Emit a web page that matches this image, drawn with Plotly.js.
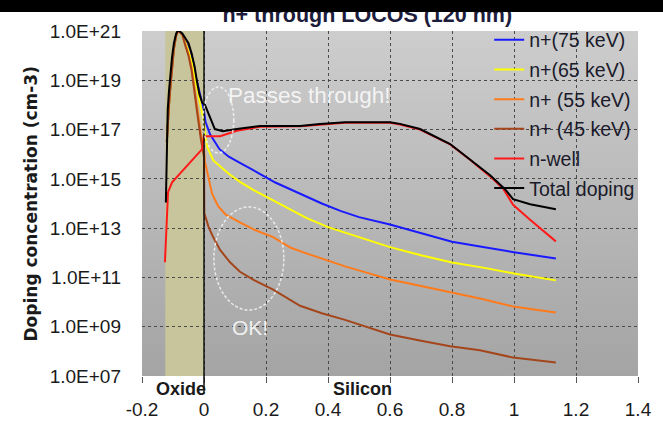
<!DOCTYPE html>
<html>
<head>
<meta charset="utf-8">
<script src="https://cdn.plot.ly/plotly-3.0.1.min.js"></script>
<style>
  html, body { margin: 0; padding: 0; background: #ffffff; }
  #wrap { position: relative; width: 663px; height: 423px; }
  #chart { position: absolute; left: 0; top: 0; width: 663px; height: 423px; }
  #band { position: absolute; left: 0; top: 0; width: 663px; height: 12px; background: #000; z-index: 10; }
</style>
</head>
<body>
<div id="wrap"><div id="chart"></div><div id="band"></div></div>
<script>
// ---- data (depth in um, concentration in cm-3) ----
const seriesNames = ["n+(75 keV)", "n+(65 keV)", "n+ (55 keV)", "n+ (45 keV)", "n-well", "Total doping"];

const n75_x = [-0.12, -0.117, -0.113, -0.108, -0.103, -0.097, -0.09, -0.085, -0.08, -0.07, -0.06, -0.05, -0.04, -0.03, -0.02, -0.01, 0,
  0.005, 0.02, 0.05, 0.08, 0.116, 0.15, 0.18, 0.23, 0.28, 0.31, 0.38, 0.44, 0.5, 0.6, 0.7, 0.8, 0.9, 1.0, 1.135];
const n75_y = [3.2e16, 2.0e17, 1.0e18, 6.3e18, 3.5e19, 2.0e20, 6.3e20, 9.5e20, 9.5e20, 7.1e20, 4.0e20, 2.0e20, 7.9e19, 2.2e19, 5.6e18, 1.6e18, 5.6e17,
  2.0e17, 6.3e16, 1.6e16, 7.9e15, 4.5e15, 2.5e15, 1.6e15, 7.1e14, 3.7e14, 2.5e14, 1.0e14, 5.0e13, 2.8e13, 1.4e13, 6.3e12, 2.8e12, 1.7e12, 1.05e12, 5.9e11];

const n65_x = [-0.12, -0.117, -0.113, -0.108, -0.103, -0.097, -0.09, -0.085, -0.08, -0.07, -0.06, -0.05, -0.04, -0.03, -0.02, -0.01, 0,
  0.003, 0.01, 0.03, 0.052, 0.08, 0.116, 0.16, 0.22, 0.28, 0.33, 0.4, 0.46, 0.53, 0.6, 0.7, 0.8, 0.9, 1.0, 1.135];
const n65_y = [3.2e16, 2.0e17, 1.0e18, 6.3e18, 3.5e19, 2.0e20, 6.3e20, 9.5e20, 9.5e20, 7.1e20, 3.5e20, 1.6e20, 5.6e19, 1.4e19, 3.2e18, 7.1e17, 2.0e17,
  7.9e16, 2.0e16, 5.6e15, 3.2e15, 1.6e15, 7.6e14, 3.5e14, 1.4e14, 5.6e13, 2.6e13, 1.1e13, 6.3e12, 3.2e12, 1.7e12, 7.9e11, 4.0e11, 2.5e11, 1.45e11, 7.6e10];

const n55_x = [-0.12, -0.117, -0.113, -0.108, -0.103, -0.097, -0.09, -0.085, -0.08, -0.07, -0.06, -0.05, -0.04, -0.03, -0.02, -0.01, 0,
  0.003, 0.01, 0.026, 0.045, 0.07, 0.116, 0.16, 0.223, 0.28, 0.33, 0.4, 0.455, 0.53, 0.6, 0.7, 0.794, 0.89, 0.997, 1.135];
const n55_y = [3.2e16, 2.0e17, 1.0e18, 6.3e18, 3.5e19, 2.0e20, 6.3e20, 9.5e20, 9.5e20, 7.1e20, 2.8e20, 1.1e20, 3.2e19, 5.0e18, 5.0e17, 6.3e16, 1.6e16,
  5.0e15, 2.0e15, 2.5e14, 7.9e13, 3.5e13, 1.7e13, 8.9e12, 4.3e12, 1.6e12, 9.5e11, 4.8e11, 2.8e11, 1.5e11, 8.3e10, 4.5e10, 2.5e10, 1.4e10, 6.6e9, 3.8e9];

const n45_x = [-0.12, -0.117, -0.113, -0.108, -0.103, -0.097, -0.09, -0.085, -0.08, -0.07, -0.06, -0.05, -0.04, -0.03, -0.02, -0.01, 0,
  0.001, 0.015, 0.029, 0.052, 0.084, 0.116, 0.16, 0.223, 0.31, 0.38, 0.455, 0.53, 0.6, 0.7, 0.794, 0.89, 0.997, 1.135];
const n45_y = [3.2e16, 2.0e17, 1.0e18, 6.3e18, 3.5e19, 2.0e20, 6.3e20, 9.5e20, 9.5e20, 7.1e20, 2.5e20, 1.0e20, 2.5e19, 3.5e18, 3.2e17, 4.0e16, 7.9e15,
  4.0e13, 1.1e13, 4.5e12, 1.3e12, 4.1e11, 1.7e11, 7.9e10, 3.2e10, 7.1e9, 3.5e9, 1.9e9, 9.5e8, 4.8e8, 2.7e8, 1.6e8, 1.1e8, 5.6e7, 3.5e7];

const nwell_x = [-0.126, -0.116, -0.103, -0.006, 0.0, 0.052, 0.106, 0.181, 0.31, 0.374, 0.455, 0.6, 0.632, 0.697, 0.794, 0.858, 0.923, 0.965, 0.997, 1.05, 1.135];
const nwell_y = [4.1e11, 2.9e14, 7.2e14, 1.6e16, 5.4e16, 5.4e16, 8.9e16, 1.3e17, 1.35e17, 1.6e17, 1.9e17, 1.9e17, 1.6e17, 1.0e17, 2.5e16, 6.0e15, 1.26e15, 4.0e14, 8.9e13, 2.3e13, 2.9e12];

const total_x = [-0.123, -0.12, -0.117, -0.113, -0.108, -0.103, -0.097, -0.09, -0.085, -0.08, -0.07, -0.06, -0.05, -0.04, -0.03, -0.023, -0.015, -0.006, 0.003,
  0.035, 0.061, 0.106, 0.181, 0.31, 0.374, 0.455, 0.6, 0.632, 0.697, 0.794, 0.858, 0.923, 0.971, 0.997, 1.052, 1.135];
const total_y = [1.1e14, 2.0e16, 6.3e17, 3.6e18, 2.5e19, 8.9e19, 3.2e20, 7.9e20, 1.0e21, 1.0e21, 7.9e20, 5.0e20, 3.2e20, 1.26e20, 3.5e19, 9.3e18, 2.8e18, 1.26e18, 1.0e18,
  1.05e17, 8.5e16, 1.05e17, 1.4e17, 1.4e17, 1.7e17, 2.0e17, 2.0e17, 1.7e17, 1.05e17, 2.6e16, 6.3e15, 1.4e15, 3.8e14, 1.5e14, 9.3e13, 5.8e13];

const xTickVals = [-0.2, 0, 0.2, 0.4, 0.6, 0.8, 1, 1.2, 1.4];
const xTickText = ["-0.2", "0", "0.2", "0.4", "0.6", "0.8", "1", "1.2", "1.4"];
const yTickVals = [1e7, 1e9, 1e11, 1e13, 1e15, 1e17, 1e19, 1e21];
const yTickText = ["1.0E+07", "1.0E+09", "1.0E+11", "1.0E+13", "1.0E+15", "1.0E+17", "1.0E+19", "1.0E+21"];

// ---- styles ----
const colors = ["#1a1aff", "#ffff00", "#ff7a1a", "#a4461c", "#ff1a1a", "#000000"];
const xs = [n75_x, n65_x, n55_x, n45_x, nwell_x, total_x];
const ys = [n75_y, n65_y, n55_y, n45_y, nwell_y, total_y];

const traces = seriesNames.map((name, i) => ({
  type: "scatter", mode: "lines", name: name,
  legendgroup: "g" + i,
  x: xs[i], y: ys[i],
  line: { color: colors[i], width: 2 },
  hoverinfo: "skip"
}));

const gradSvg = '<svg xmlns="http://www.w3.org/2000/svg" width="10" height="100" preserveAspectRatio="none">' +
  '<defs><linearGradient id="g" x1="0" y1="0" x2="0" y2="1">' +
  '<stop offset="0" stop-color="#cdcdcd"/><stop offset="1" stop-color="#a4a4a4"/></linearGradient></defs>' +
  '<rect width="10" height="100" fill="url(#g)"/></svg>';

const tickFont = { family: "Arial, 'Liberation Sans', sans-serif", size: 19, color: "#1a1a1a" };
const whiteTxt = "rgba(250,250,250,0.9)";

const layout = {
  width: 663, height: 423,
  margin: { l: 142, r: 25, t: 31, b: 47, pad: 0 },
  paper_bgcolor: "#ffffff",
  plot_bgcolor: "#b7b7b7",
  showlegend: true,
  title: {
    text: "n+ through LOCOS (120 nm)",
    font: { family: "Arial, 'Liberation Sans', sans-serif", size: 21.5, color: "#1c1c3c", weight: "bold" },
    x: 0.554, xref: "container", xanchor: "center",
    y: 0.9655, yref: "container", yanchor: "middle"
  },
  xaxis: {
    range: [-0.2, 1.4],
    tickvals: xTickVals, ticktext: xTickText,
    tickfont: tickFont,
    ticks: "outside", ticklen: 6, tickcolor: "#555555", tickwidth: 1,
    ticklabelstandoff: 10,
    showgrid: true, gridcolor: "#4a4a4a", gridwidth: 1, griddash: "dot",
    zeroline: false, showline: false
  },
  yaxis: {
    type: "log", range: [7, 21],
    tickvals: yTickVals, ticktext: yTickText,
    tickfont: tickFont,
    ticks: "", ticklabelstandoff: 20,
    showgrid: true, gridcolor: "#4a4a4a", gridwidth: 1, griddash: "dot",
    zeroline: false, showline: false
  },
  legend: {
    x: 0.70, xanchor: "left", y: 1.03, yanchor: "top",
    traceorder: "grouped", tracegroupgap: 1.3,
    bgcolor: "rgba(0,0,0,0)",
    font: { family: "Arial, 'Liberation Sans', sans-serif", size: 19.5, color: "#1a1a2a" }
  },
  images: [{
    source: "data:image/svg+xml;charset=utf-8," + encodeURIComponent(gradSvg),
    xref: "paper", yref: "paper", x: 0, y: 1, sizex: 1, sizey: 1,
    sizing: "stretch", xanchor: "left", yanchor: "top", layer: "below"
  }],
  shapes: [
    { type: "rect", xref: "x", yref: "paper", x0: -0.125, x1: 0, y0: 0, y1: 1,
      fillcolor: "#c8c49c", line: { width: 0 }, layer: "below" },
    { type: "line", xref: "x", yref: "paper", x0: 0, x1: 0, y0: -0.05, y1: 1,
      line: { color: "#111111", width: 1.5 }, layer: "above" },
    { type: "circle", xref: "paper", yref: "paper", x0: 0.145, x1: 0.286, y0: 0.191, y1: 0.49,
      line: { color: "rgba(245,245,245,0.85)", width: 1.5, dash: "3px,2px" } },
    { type: "circle", xref: "paper", yref: "paper", x0: 0.123, x1: 0.185, y0: 0.646, y1: 0.838,
      line: { color: "rgba(245,245,245,0.85)", width: 1.5, dash: "3px,2px" } }
  ],
  annotations: [
    { text: "Doping concentration (cm-3)", textangle: -90, showarrow: false,
      xref: "paper", yref: "paper", x: -0.2238, y: 0.5, xanchor: "center", yanchor: "middle",
      font: { family: "'DejaVu Sans', sans-serif", size: 17, color: "#1a1a1a", weight: "bold" } },
    { text: "Oxide", showarrow: false, xref: "x", yref: "paper", x: -0.075, y: -0.0377,
      xanchor: "center", yanchor: "middle",
      font: { family: "Arial, 'Liberation Sans', sans-serif", size: 18, color: "#1a1a1a", weight: "bold" } },
    { text: "Silicon", showarrow: false, xref: "x", yref: "paper", x: 0.51, y: -0.0377,
      xanchor: "center", yanchor: "middle",
      font: { family: "Arial, 'Liberation Sans', sans-serif", size: 18, color: "#1a1a1a", weight: "bold" } },
    { text: "Passes through!", showarrow: false, xref: "paper", yref: "paper",
      x: (226 - 142) / 496, y: (376 - 96) / 345, xanchor: "left", yanchor: "middle",
      font: { family: "Arial, 'Liberation Sans', sans-serif", size: 22.5, color: whiteTxt } },
    { text: "OK!", showarrow: false, xref: "paper", yref: "paper",
      x: (250 - 142) / 496, y: (376 - 327) / 345, xanchor: "center", yanchor: "middle",
      font: { family: "Arial, 'Liberation Sans', sans-serif", size: 21, color: whiteTxt } }
  ]
};

Plotly.newPlot("chart", traces, layout, { displayModeBar: false, staticPlot: true });
</script>
</body>
</html>
